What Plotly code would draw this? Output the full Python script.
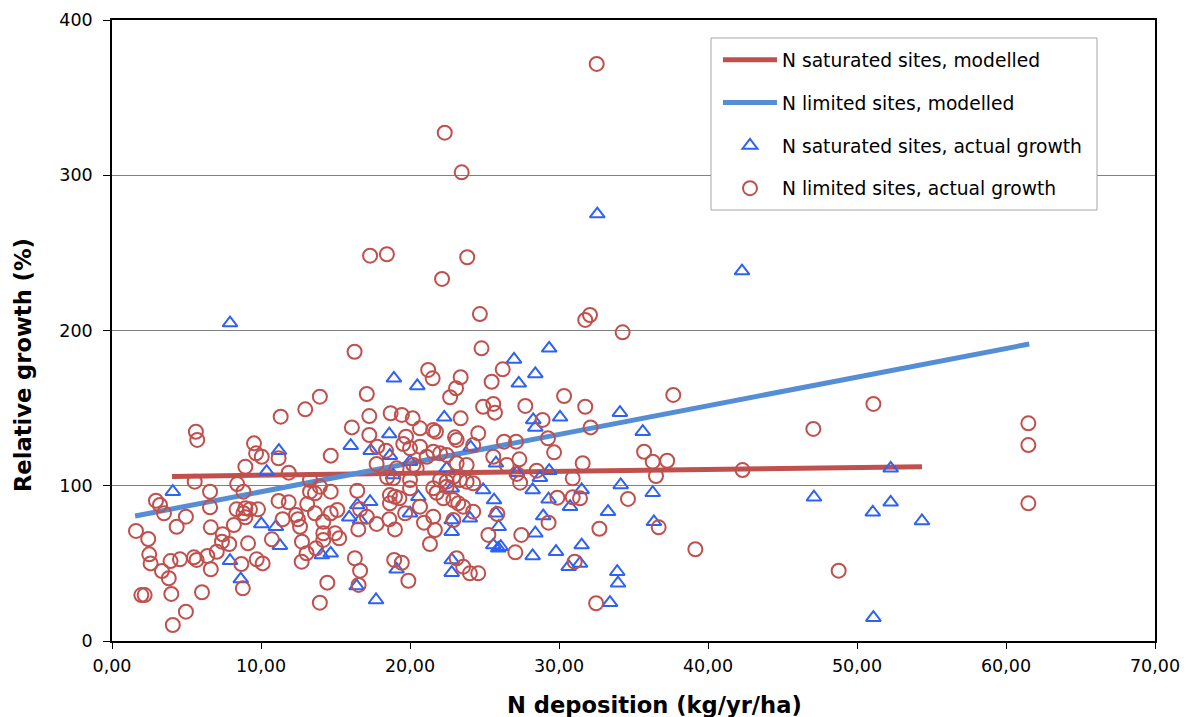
import plotly.graph_objects as go

# N limited sites, actual growth (circles)
lim_x = [5.63, 5.72, 11.32, 12.97, 13.95, 9.53, 9.67, 10.05, 11.18, 8.95, 11.86, 5.55, 8.40, 8.82, 6.58,
         2.95, 3.22, 3.49, 6.58, 4.96, 4.34, 8.36, 8.95, 9.26, 9.80, 8.82, 8.95, 8.18, 6.63, 11.18,
         11.86, 13.10, 13.29, 13.62, 12.35, 12.48, 12.62, 11.45, 13.62, 1.61, 2.43, 7.43, 7.38, 7.87, 9.13,
         10.73, 12.75, 2.50, 2.59, 3.93, 4.56, 5.50, 5.68, 6.40, 7.03, 6.63, 3.35, 3.81, 8.68, 9.71,
         10.11, 12.73, 13.06, 13.69, 8.78, 3.98, 6.04, 1.97, 2.19, 4.96, 4.08, 13.95,
         24.69, 24.80, 16.28, 21.22, 21.52, 23.40, 23.09, 22.69, 25.48, 26.22, 17.10, 24.91, 25.59, 25.70,
         17.27, 18.70, 19.45, 20.18, 20.67, 23.40, 16.10, 17.27, 21.56, 21.74, 19.73, 19.55, 20.00, 20.67,
         18.39, 17.80, 23.02, 23.13, 24.58, 24.24, 25.59, 14.68, 21.56, 22.02, 22.46, 21.12, 17.76, 20.22,
         20.45, 23.13, 23.80, 18.47, 19.10, 18.87, 20.00, 22.02, 22.46, 22.91, 23.35, 23.80, 24.24, 13.29,
         13.95, 14.68, 16.46, 20.00, 21.56, 21.79, 22.24, 22.46, 22.91, 18.65, 18.99, 19.29, 18.65, 20.67,
         23.24, 23.57, 24.24, 14.68, 15.12, 16.65, 17.10, 17.76, 16.53, 18.61, 18.99, 19.67, 20.94, 21.56,
         21.67, 22.91, 21.34, 14.18, 14.18, 14.18, 14.97, 15.25, 16.30, 16.65, 16.55, 18.94, 19.45, 19.89,
         23.13, 23.57, 24.02, 24.58, 14.45, 25.26,
         31.76, 32.08, 34.27, 27.74, 30.34, 31.76, 37.67, 28.90, 32.12, 29.26, 29.67, 26.31, 27.12, 27.34,
         26.49, 28.50, 31.59, 35.71, 36.29, 37.26, 36.51, 27.39, 27.17, 30.92, 29.89, 30.92, 31.41, 34.63,
         25.86, 29.30, 32.71, 36.69, 27.47, 27.07, 31.05, 32.49,
         47.07, 42.32, 39.15, 48.77, 51.10, 61.50, 61.50, 61.50,
         32.53, 22.33, 23.47, 17.32, 18.45, 23.84, 22.15]
lim_y = [134.8, 129.5, 144.5, 149.2, 157.4, 127.3, 120.9, 118.7, 117.7, 112.3, 108.4, 102.6, 101.1, 96.2, 96.2,
         90.4, 87.6, 82.3, 86.1, 80.1, 73.6, 84.8, 85.5, 84.8, 84.8, 82.3, 79.7, 74.7, 73.2, 90.2,
         89.3, 88.2, 96.2, 95.1, 81.2, 78.4, 73.6, 78.4, 82.3, 70.9, 65.7, 68.7, 64.0, 62.5, 62.9,
         65.5, 64.0, 55.8, 50.0, 51.5, 52.6, 53.9, 52.2, 54.8, 57.5, 46.2, 45.1, 40.4, 49.6, 52.6,
         50.0, 51.1, 56.5, 59.7, 33.9, 30.3, 31.4, 29.6, 29.6, 18.9, 10.3, 24.7,
         210.6, 188.5, 186.3, 174.6, 169.2, 169.9, 162.8, 157.0, 167.0, 175.0, 159.1, 150.9, 152.7, 147.1,
         144.9, 146.7, 145.6, 143.4, 137.0, 143.4, 137.6, 132.7, 135.9, 134.8, 131.6, 126.9, 124.1, 125.2,
         122.6, 125.2, 131.2, 129.5, 133.8, 126.2, 118.7, 119.4, 121.9, 120.9, 119.8, 118.7, 114.0, 113.4,
         111.2, 114.5, 113.4, 105.4, 111.2, 104.8, 103.7, 103.7, 102.6, 105.8, 103.7, 102.6, 101.6, 103.7,
         99.4, 96.2, 96.8, 98.4, 98.4, 95.5, 91.9, 99.4, 90.8, 94.0, 92.9, 91.9, 88.7, 86.5,
         88.7, 86.5, 83.3, 82.3, 84.4, 84.8, 80.1, 75.4, 71.9, 78.4, 71.9, 82.3, 76.2, 80.1,
         71.5, 77.9, 62.5, 76.8, 69.4, 65.1, 69.4, 66.2, 53.3, 45.3, 36.1, 52.2, 50.4, 38.8,
         53.3, 47.9, 43.6, 43.6, 37.6, 68.3,
         206.8, 210.0, 198.8, 151.4, 157.8, 150.9, 158.5, 142.4, 137.6, 130.6, 121.5, 128.4, 128.4, 117.0,
         113.4, 109.7, 114.5, 121.9, 115.5, 116.1, 106.3, 102.0, 107.6, 104.8, 92.3, 92.6, 91.9, 91.5,
         81.8, 76.2, 72.3, 73.2, 68.3, 57.1, 51.1, 24.3,
         136.6, 110.1, 59.1, 45.3, 152.7, 140.2, 126.2, 88.7,
         371.7, 327.4, 301.9, 248.2, 249.1, 247.2, 233.2]

# N saturated sites, actual growth (triangles)
sat_x = [4.08, 7.92, 8.64, 7.92, 10.02, 10.38, 11.20, 11.00, 11.27, 18.92, 20.49, 22.30, 18.61, 16.02,
         17.36, 18.65, 20.00, 24.07, 18.87, 22.46, 25.77, 24.91, 25.64, 25.77, 22.80, 20.56, 17.32, 16.46,
         15.92, 16.65, 20.00, 22.80, 22.80, 24.02, 25.59, 25.92, 14.08, 14.68, 19.10, 22.80, 22.80, 16.42,
         17.72, 29.34, 26.98, 28.41, 27.30, 30.07, 28.27, 28.41, 34.09, 35.62, 27.17, 29.34, 28.72, 28.23,
         29.30, 31.52, 34.14, 36.29, 30.74, 33.29, 28.94, 25.95, 36.37, 28.41, 26.09, 31.52, 29.80, 28.23,
         31.41, 30.65, 33.91, 33.96, 33.42, 32.57, 42.28, 47.11, 52.26, 52.26, 51.06, 54.36, 51.10]
sat_y = [96.2, 204.8, 39.9, 51.7, 75.4, 109.1, 122.6, 73.6, 61.4, 169.2, 164.3, 144.1, 133.3, 125.8,
         122.6, 119.4, 115.5, 124.8, 106.9, 111.2, 114.5, 97.3, 90.8, 82.3, 98.4, 92.9, 89.7, 87.6,
         79.7, 77.9, 82.3, 77.9, 70.4, 79.0, 61.8, 59.7, 55.4, 56.5, 46.2, 52.2, 44.0, 35.4,
         26.4, 188.5, 181.4, 172.0, 166.0, 144.1, 142.4, 137.6, 147.1, 134.8, 108.4, 109.7, 105.2, 97.3,
         91.3, 97.3, 100.5, 95.5, 86.5, 83.3, 80.5, 73.6, 76.8, 69.4, 60.7, 61.8, 57.5, 54.8,
         50.0, 47.9, 44.6, 37.2, 24.7, 275.0, 238.3, 92.6, 111.2, 89.3, 82.9, 77.3, 15.0]

# Modelled lines
sat_model_x = [4.03, 54.36]
sat_model_y = [106.0, 112.3]
lim_model_x = [1.55, 61.56]
lim_model_y = [80.5, 191.3]

x_ticks = [0, 10, 20, 30, 40, 50, 60, 70]
y_ticks = [0, 100, 200, 300, 400]

RED = "#C0504D"
BLUE_LINE = "#558ED5"
BLUE_TRI = "#2E62F5"

fig = go.Figure()
fig.add_trace(go.Scatter(x=sat_model_x, y=sat_model_y, mode="lines",
                         line=dict(color=RED, width=5), name="N saturated sites, modelled",
                         legendgroup="a"))
fig.add_trace(go.Scatter(x=lim_model_x, y=lim_model_y, mode="lines",
                         line=dict(color=BLUE_LINE, width=5), name="N limited sites, modelled",
                         legendgroup="b"))
fig.add_trace(go.Scatter(x=sat_x, y=sat_y, mode="markers",
                         marker=dict(symbol="triangle-up-open", size=13, color=BLUE_TRI,
                                     line=dict(width=2, color=BLUE_TRI)),
                         name="N saturated sites, actual growth", legendgroup="c"))
fig.add_trace(go.Scatter(x=lim_x, y=lim_y, mode="markers",
                         marker=dict(symbol="circle-open", size=14, color=RED,
                                     line=dict(width=2, color=RED)),
                         name="N limited sites, actual growth", legendgroup="d"))

fig.update_layout(
    width=1190, height=717,
    margin=dict(l=104, r=43, t=12, b=84, autoexpand=False),
    paper_bgcolor="white", plot_bgcolor="white",
    font=dict(family="DejaVu Sans", size=17.5, color="black"),
    separators=",.",
    showlegend=True,
    legend=dict(x=0.581, y=0.966, xanchor="left", yanchor="top",
                borderwidth=0, bgcolor="rgba(0,0,0,0)",
                font=dict(size=18.7, family="DejaVu Sans"),
                traceorder="grouped", tracegroupgap=15.5, itemwidth=54),
    shapes=[dict(type="rect", xref="paper", yref="paper", x0=0.5743, x1=0.9444, y0=0.694, y1=0.971,
                 line=dict(color="#A6A6A6", width=1), fillcolor="white", layer="above")],
    annotations=[
        dict(text="<b>N deposition (kg/yr/ha)</b>", xref="paper", yref="paper",
             x=0.5197, y=-0.103, xanchor="center", yanchor="middle", showarrow=False,
             font=dict(size=22.6, family="DejaVu Sans")),
        dict(text="<b>Relative growth (%)</b>", xref="paper", yref="paper",
             x=-0.0853, y=0.4444, xanchor="center", yanchor="middle", showarrow=False,
             textangle=-90, font=dict(size=22.6, family="DejaVu Sans")),
    ],
)
fig.update_xaxes(range=[0, 70], tickvals=x_ticks, tickformat=".2f", automargin=False,
                 showgrid=False, zeroline=False, showline=True, linecolor="black", linewidth=1.5,
                 mirror=True, ticks="outside", ticklen=6, tickcolor="black", ticklabelstandoff=2)
fig.update_yaxes(range=[0, 400], tickvals=y_ticks, automargin=False,
                 showgrid=True, gridcolor="#808080", gridwidth=1, zeroline=False,
                 showline=True, linecolor="black", linewidth=1.5, mirror=True,
                 ticks="outside", ticklen=7, tickcolor="black", ticklabelstandoff=7)

fig.write_html("out.html")
